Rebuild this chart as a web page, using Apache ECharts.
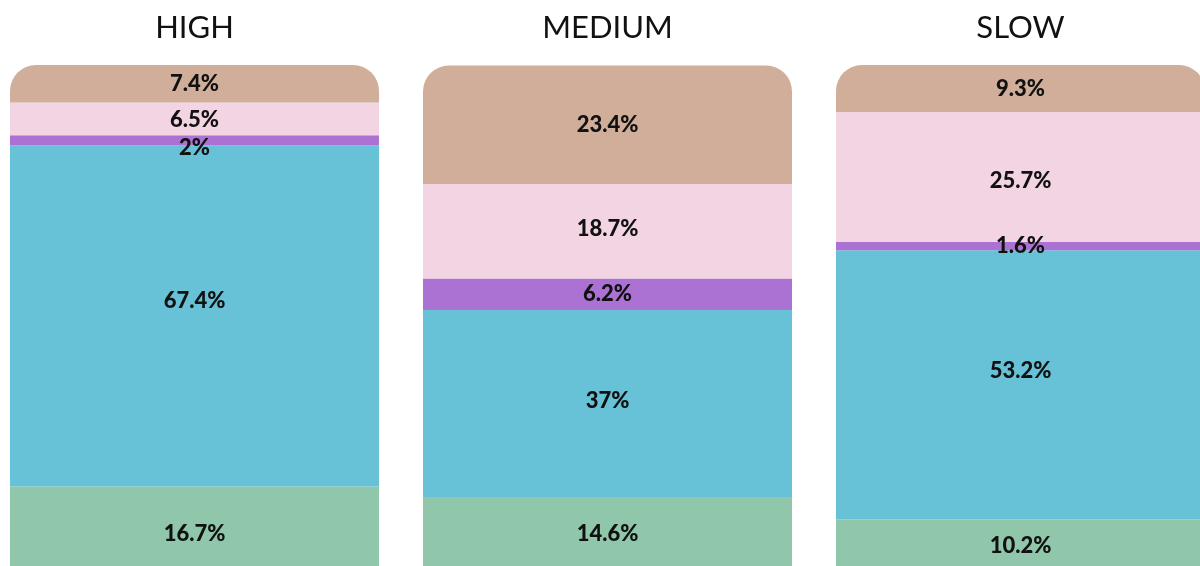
<!DOCTYPE html>
<html>
<head>
<meta charset="utf-8">
<script src="https://cdn.jsdelivr.net/npm/echarts@6/dist/echarts.min.js"></script>
<style>html,body{margin:0;padding:0;background:#fff;}#c{width:1200px;height:566px;}</style>
</head>
<body>
<div id="c"></div>
<script>
const categories = ['HIGH', 'MEDIUM', 'SLOW'];
const seriesNames = ['s1', 's2', 's3', 's4', 's5'];
const greenVals = [16.7, 14.6, 10.2];
const blueVals = [67.4, 37, 53.2];
const purpleVals = [2, 6.2, 1.6];
const pinkVals = [6.5, 18.7, 25.7];
const brownVals = [7.4, 23.4, 9.3];

const colors = ['#90C7AA', '#67C1D7', '#AC72D3', '#F2D4E3', '#D0AE9A'];
const allVals = [greenVals, blueVals, purpleVals, pinkVals, brownVals];
// label nudges (pixels) per [series][category], matching the reference placement
const labelNudge = [[5, 0, 1], [-15, -3, -14], [8, 0, 0], [1, -2, 4], [0, 0, 0]];

const chart = echarts.init(document.getElementById('c'), null, {renderer: 'canvas'});
const series = allVals.map((vals, i) => ({
  name: seriesNames[i],
  type: 'bar',
  stack: 'total',
  barWidth: 369,
  data: vals.map((v, j) => ({value: v, label: {offset: [0, labelNudge[i][j]]}})),
  itemStyle: {color: colors[i], borderRadius: i === 4 ? [26, 26, 0, 0] : 0},
  label: {
    show: true,
    position: 'inside',
    formatter: p => p.value + '%',
    color: '#111',
    fontFamily: 'Lato',
    fontWeight: 900,
    fontSize: 22
  },
  emphasis: {disabled: true},
  animation: false
}));

chart.setOption({
  animation: false,
  grid: {left: -12, right: -27, top: 65, bottom: -5, containLabel: false, outerBoundsMode: 'none'},
  xAxis: {
    type: 'category',
    data: categories,
    position: 'top',
    axisLine: {show: false},
    axisTick: {show: false},
    axisLabel: {
      fontFamily: 'Lato',
      fontSize: 31,
      fontWeight: 'normal',
      color: '#111',
      margin: 22
    }
  },
  yAxis: {type: 'value', min: 0, max: 100, show: false, splitLine: {show: false}},
  series: series
});
</script>
</body>
</html>
